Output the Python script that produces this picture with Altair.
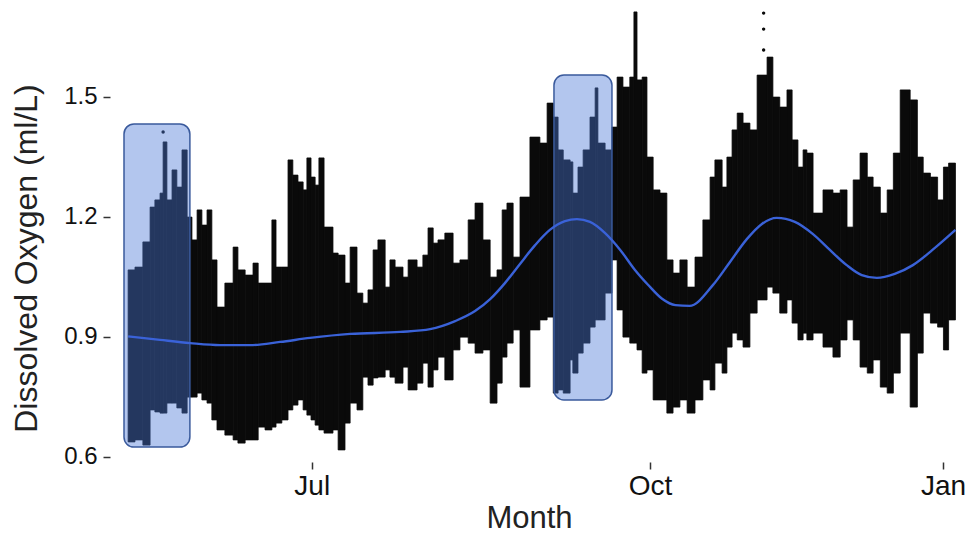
import altair as alt
import pandas as pd

# ---- data (day offsets relative to 1 Jul) ----
day_edges = [
    -53.5, -51.5, -49.2, -47.1, -45.7, -44.2, -43.3, -42.2, -40.7, -39.3,
    -37.8, -36.3, -34.9, -33.4, -32.0, -30.5, -29.1, -27.6, -25.3, -22.9,
    -21.5, -19.4, -17.1, -15.6, -13.6, -11.6, -10.4, -8.7, -6.9, -5.5,
    -4.0, -2.5, -1.4, -0.2, 1.0, 2.1, 3.6, 6.2, 7.7, 9.7,
    11.2, 13.2, 14.9, 16.4, 17.9, 19.3, 21.4, 22.8, 24.3, 26.6,
    28.1, 30.7, 32.4, 33.9, 35.4, 36.8, 38.8, 41.2, 43.2, 45.6,
    47.6, 49.9, 52.0, 54.0, 55.5, 56.9, 58.7, 60.7, 63.6, 66.5,
    68.6, 70.4, 71.8, 73.3, 75.3, 76.1, 77.6, 79.1, 81.1, 82.6,
    83.4, 85.5, 87.5, 89.0, 90.7, 92.7, 93.9, 94.8, 96.3, 97.7,
    99.5, 101.5, 103.5, 105.3, 107.3, 109.4, 111.7, 114.0, 116.1, 117.5,
    119.6, 121.0, 122.5, 124.0, 125.7, 127.7, 129.8, 132.7, 134.4, 136.4,
    138.5, 140.0, 141.7, 143.2, 144.3, 146.1, 149.0, 151.9, 154.0, 156.0,
    157.8, 159.8, 161.9, 163.6, 165.7, 167.7, 169.5, 171.5, 174.4, 176.5,
    178.2, 180.3, 182.4, 184.1, 185.6, 187.6,
]
do_high = [
    1.067, 1.074, 1.137, 1.224, 1.242, 1.259, 1.387, 1.242, 1.317, 1.274,
    1.367, 1.199, 1.142, 1.217, 1.179, 1.217, 1.092, 0.974, 1.034, 1.124,
    1.067, 1.054, 1.084, 1.034, 1.034, 1.192, 1.074, 1.074, 1.342, 1.304,
    1.287, 1.267, 1.347, 1.299, 1.279, 1.347, 1.174, 1.109, 1.104, 1.034,
    1.124, 1.009, 0.984, 1.017, 1.117, 1.142, 1.024, 1.092, 1.074, 1.049,
    1.092, 1.074, 1.104, 1.172, 1.134, 1.142, 1.159, 1.084, 1.092, 1.192,
    1.234, 1.142, 1.049, 1.067, 1.217, 1.234, 1.099, 1.249, 1.399, 1.384,
    1.484, 1.449, 1.367, 1.342, 1.337, 1.259, 1.324, 1.367, 1.449, 1.522,
    1.384, 1.367, 1.424, 1.549, 1.524, 1.549, 1.712, 1.542, 1.549, 1.349,
    1.267, 1.259, 1.092, 1.059, 1.092, 1.024, 1.099, 1.192, 1.299, 1.342,
    1.274, 1.349, 1.417, 1.459, 1.434, 1.417, 1.554, 1.599, 1.499, 1.474,
    1.517, 1.392, 1.324, 1.367, 1.359, 1.209, 1.267, 1.259, 1.267, 1.174,
    1.292, 1.359, 1.299, 1.274, 1.209, 1.267, 1.359, 1.517, 1.492, 1.349,
    1.309, 1.299, 1.242, 1.324, 1.334,
]
do_low = [
    0.637, 0.642, 0.629, 0.717, 0.712, 0.709, 0.709, 0.734, 0.734, 0.722,
    0.709, 0.749, 0.749, 0.759, 0.742, 0.734, 0.692, 0.667, 0.654, 0.642,
    0.634, 0.642, 0.642, 0.674, 0.667, 0.674, 0.684, 0.692, 0.717, 0.729,
    0.742, 0.717, 0.704, 0.692, 0.679, 0.667, 0.659, 0.667, 0.617, 0.684,
    0.734, 0.717, 0.799, 0.779, 0.797, 0.799, 0.817, 0.799, 0.784, 0.824,
    0.767, 0.784, 0.834, 0.774, 0.817, 0.849, 0.792, 0.867, 0.899, 0.884,
    0.859, 0.867, 0.734, 0.784, 0.849, 0.884, 0.917, 0.774, 0.917, 0.942,
    0.949, 0.759, 0.767, 0.759, 0.842, 0.809, 0.859, 0.884, 0.924, 0.942,
    0.942, 1.009, 1.092, 0.967, 0.899, 0.884, 0.884, 0.867, 0.809, 0.817,
    0.742, 0.742, 0.709, 0.724, 0.742, 0.709, 0.742, 0.792, 0.767, 0.834,
    0.809, 0.874, 0.909, 0.892, 0.874, 0.959, 0.992, 1.024, 1.009, 0.959,
    0.992, 0.934, 0.892, 0.909, 0.892, 0.909, 0.874, 0.849, 0.892, 0.942,
    0.892, 0.824, 0.809, 0.842, 0.774, 0.759, 0.809, 0.909, 0.724, 0.859,
    0.959, 0.934, 0.924, 0.867, 0.942,
]

# isolated readings
pt_day = [-43.3, 131.7, 131.7, 131.7]
pt_val = [1.412, 1.709, 1.669, 1.617]

# smoothed trend
smooth_day = [-53.5, -44.2, -35.4, -26.7, -17.9, -9.2, -0.5, 11.2, 25.8, 34.5,
              41.8, 47.6, 52.0, 56.3, 60.7, 65.1, 69.4, 73.8, 77.3, 81.1,
              85.5, 89.9, 94.2, 98.0, 102.1, 106.0, 110.1, 116.9, 121.9, 126.8,
              131.2, 135.5, 140.8, 146.0, 151.0, 155.9, 160.3, 164.7, 169.9, 175.2,
              181.6, 187.6]
smooth_val = [0.901, 0.892, 0.884, 0.879, 0.879, 0.887, 0.897, 0.907, 0.912, 0.919,
              0.939, 0.964, 0.994, 1.034, 1.082, 1.129, 1.167, 1.189, 1.194, 1.187,
              1.159, 1.117, 1.067, 1.030, 0.995, 0.979, 0.977, 1.029, 1.087, 1.144,
              1.182, 1.197, 1.187, 1.157, 1.117, 1.079, 1.054, 1.047, 1.057, 1.079,
              1.122, 1.167]

# highlighted periods
box_day_start = [-54.7, 70.6]
box_day_end = [-35.5, 87.5]
box_low = [0.624, 0.742]
box_high = [1.432, 1.554]

y_ticks = [0.6, 0.9, 1.2, 1.5]
x_tick_days = [0, 98.6, 184]

base = pd.Timestamp("2018-07-01")


def to_dates(days):
    return [(base + pd.Timedelta(days=float(d))).strftime("%Y-%m-%dT%H:%M:%S") for d in days]


cols = pd.DataFrame({
    "start": to_dates(day_edges[:-1]),
    "end": to_dates(day_edges[1:]),
    "lo": do_low,
    "hi": do_high,
})
pts = pd.DataFrame({"date": to_dates(pt_day), "val": pt_val})
smooth = pd.DataFrame({"date": to_dates(smooth_day), "val": smooth_val})
boxes = pd.DataFrame({
    "start": to_dates(box_day_start),
    "end": to_dates(box_day_end),
    "lo": box_low,
    "hi": box_high,
})


def dt(d):
    t = base + pd.Timedelta(days=float(d))
    return alt.DateTime(year=t.year, month=t.month, date=t.day, hours=t.hour, minutes=t.minute)


x_scale = alt.Scale(domain=[dt(-58.78), dt(190.38)])
y_scale = alt.Scale(domain=[0.5868, 1.7218], nice=False, zero=False)

FONT = "Liberation Sans"

x_axis = alt.Axis(
    title="Month", values=[dt(d) for d in x_tick_days], format="%b",
    grid=False, domain=False, tickSize=7, tickWidth=1.5, tickColor="#333333",
    labelFontSize=28, labelColor="#111111", labelPadding=3, labelFont=FONT,
    titleFontSize=31, titleColor="#222222", titleFont=FONT, titleFontWeight="normal",
    titleX=419, titleY=65, titleBaseline="alphabetic",
)
y_axis = alt.Axis(
    title="Dissolved Oxygen (ml/L)", values=y_ticks, format=".1f",
    grid=False, domain=False, tickSize=7, tickWidth=1.5, tickColor="#333333",
    labelFontSize=24, labelColor="#111111", labelPadding=6, labelFont=FONT,
    titleFontSize=32, titleColor="#222222", titleFont=FONT, titleFontWeight="normal",
    titleX=-67, titleY=250,
)

cloud = alt.Chart(cols).mark_rect(
    color="#0a0a0a", stroke="#0a0a0a", strokeWidth=0.8
).encode(
    x=alt.X("start:T", scale=x_scale, axis=x_axis),
    x2="end:T",
    y=alt.Y("lo:Q", scale=y_scale, axis=y_axis),
    y2="hi:Q",
)
dots = alt.Chart(pts).mark_circle(color="#0a0a0a", size=12, opacity=1).encode(
    x="date:T", y="val:Q"
)
rects = alt.Chart(boxes).mark_rect(
    cornerRadius=10, fill="#4a76d6", fillOpacity=0.42, stroke="#3a5a9c", strokeWidth=1.5
).encode(x="start:T", x2="end:T", y="lo:Q", y2="hi:Q")
trend = alt.Chart(smooth).mark_line(
    color="#3a62d8", strokeWidth=2.4, interpolate="monotone"
).encode(x="date:T", y="val:Q")

chart = alt.layer(cloud, dots, rects, trend).properties(
    width=855, height=454,
    padding={"left": 102, "top": 0, "right": 6, "bottom": 72},
    autosize=alt.AutoSizeParams(type="none"),
).configure(font=FONT).configure_view(stroke=None)

chart.save("out.html", embed_options={"renderer": "svg", "actions": False})
